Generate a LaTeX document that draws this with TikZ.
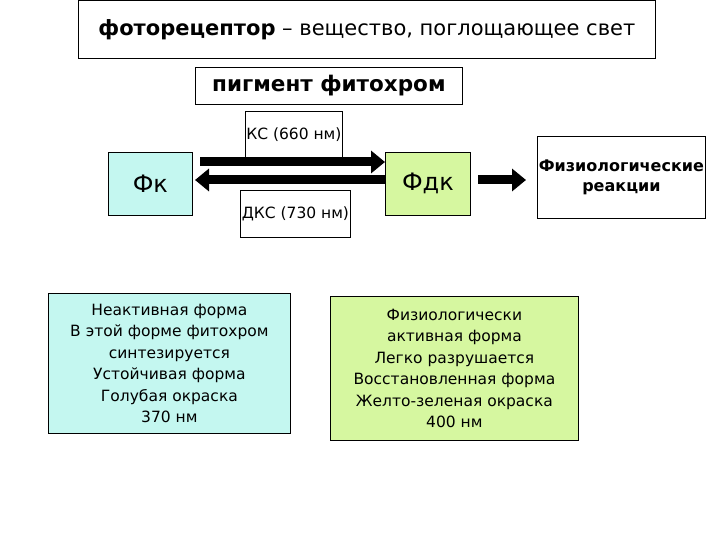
\documentclass[tikz,border=0pt]{standalone}
\usepackage{fontspec}
\setmainfont{DejaVu Sans}
\usetikzlibrary{arrows.meta}
\definecolor{cy}{HTML}{C4F7F0}
\definecolor{gr}{HTML}{D6F7A0}
\begin{document}
\begin{tikzpicture}[x=1pt,y=-1pt,
  bx/.style={draw=black,line width=0.8pt,inner sep=0pt},
  ar/.style={line width=9pt,-{Triangle[length=14pt,width=22pt]}},
  txt/.style={font=\fontsize{15.5}{21.5}\selectfont,align=center}]
\useasboundingbox[fill=white] (0,0) rectangle (720,540);
\node[bx,minimum width=577,minimum height=58,anchor=north west,font=\fontsize{21}{24}\selectfont] (t) at (78,0) {\textbf{фоторецептор} – вещество, поглощающее свет};
\node[bx,minimum width=267,minimum height=37,anchor=north west,font=\fontsize{21.5}{24}\selectfont\bfseries] (p) at (195,67) {пигмент фитохром};
\node[bx,minimum width=97,minimum height=46,anchor=north west,txt] (ks) at (245,111) {КС (660 нм)};
\node[bx,fill=cy,minimum width=84,minimum height=63,anchor=north west,font=\fontsize{24}{26}\selectfont] (fk) at (108,152) {Фк};
\node[bx,fill=gr,minimum width=85,minimum height=63,anchor=north west,font=\fontsize{24}{26}\selectfont] (fdk) at (385,152) {Фдк};
\node[bx,minimum width=110,minimum height=47,anchor=north west,txt] (dks) at (240,190) {ДКС (730 нм)};
\node[bx,minimum width=168,minimum height=82,anchor=north west,align=center,font=\fontsize{16}{20}\selectfont\bfseries] (r) at (537,136) {Физиологические\\реакции};
\node[bx,fill=cy,minimum width=242,minimum height=140,anchor=north west,txt] (l) at (48,293) {Неактивная форма\\В этой форме фитохром\\синтезируется\\Устойчивая форма\\Голубая окраска\\370 нм};
\node[bx,fill=gr,minimum width=248,minimum height=144,anchor=north west,txt] (rg) at (330,296) {Физиологически\\активная форма\\Легко разрушается\\Восстановленная форма\\Желто-зеленая окраска\\400 нм};
\coordinate (a1) at (200,162);
\coordinate (a2) at (385,162);
\coordinate (b1) at (385,180);
\coordinate (b2) at (195,180);
\coordinate (c1) at (478,180);
\coordinate (c2) at (526,180);
\draw[ar] (a1) -- (a2);
\draw[ar] (b1) -- (b2);
\draw[ar] (c1) -- (c2);
\end{tikzpicture}
\end{document}
